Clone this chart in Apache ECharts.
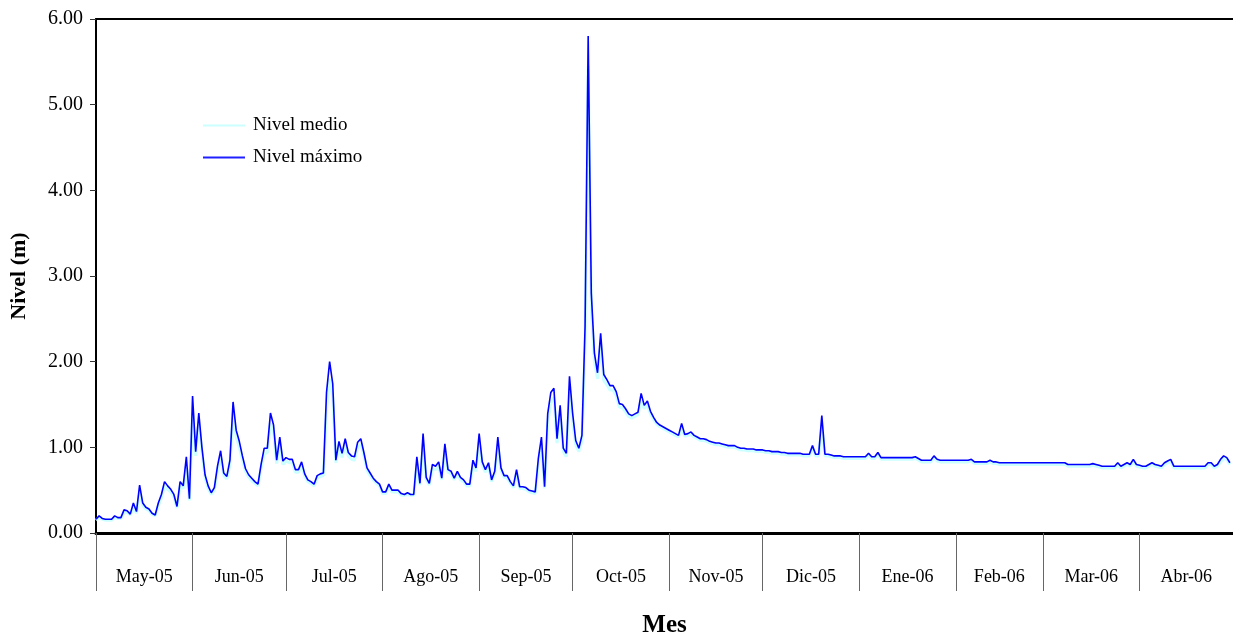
<!DOCTYPE html>
<html>
<head>
<meta charset="utf-8">
<script src="https://cdn.jsdelivr.net/npm/echarts@6/dist/echarts.min.js"></script>
<style>html,body{margin:0;padding:0;background:#fff;overflow:hidden;width:1233px;height:643px}#c{width:1233px;height:643px;overflow:hidden}</style>
</head>
<body>
<div id="c"></div>
<script>
// Month labels and day-boundaries (day index from 1 May 2005)
var monthLabels = ['May-05','Jun-05','Jul-05','Ago-05','Sep-05','Oct-05','Nov-05','Dic-05','Ene-06','Feb-06','Mar-06','Abr-06'];
var monthStarts = [0,31,61,92,123,153,184,214,245,276,304,335,365];
var yTicks = [0,1,2,3,4,5,6];

// Nivel máximo (m), daily, per month
var maxMay = [0.16,0.20,0.17,0.16,0.16,0.16,0.20,0.18,0.18,0.27,0.26,0.22,0.35,0.25,0.56,0.35,0.30,0.28,0.23,0.21,0.35,0.45,0.60,0.55,0.51,0.45,0.31,0.60,0.55,0.89,0.40];
var maxJun = [1.60,0.95,1.40,1.00,0.68,0.55,0.47,0.53,0.78,0.96,0.70,0.66,0.85,1.53,1.20,1.07,0.90,0.75,0.68,0.64,0.60,0.57,0.80,0.99,0.99,1.40,1.26,0.85,1.12,0.84];
var maxJul = [0.88,0.86,0.86,0.74,0.74,0.83,0.69,0.62,0.60,0.57,0.67,0.69,0.70,1.64,2.00,1.74,0.85,1.07,0.93,1.10,0.94,0.90,0.89,1.06,1.10,0.94,0.76,0.70,0.64,0.60,0.57];
var maxAgo = [0.48,0.48,0.57,0.50,0.50,0.50,0.46,0.45,0.47,0.45,0.45,0.89,0.58,1.16,0.65,0.58,0.80,0.78,0.83,0.64,1.04,0.74,0.72,0.64,0.72,0.65,0.62,0.57,0.57,0.85,0.76];
var maxSep = [1.16,0.83,0.74,0.82,0.62,0.72,1.12,0.76,0.67,0.67,0.60,0.55,0.74,0.54,0.54,0.53,0.50,0.49,0.48,0.87,1.12,0.54,1.39,1.64,1.69,1.10,1.49,0.99,0.93,1.83];
var maxOct = [1.40,1.08,0.99,1.14,2.41,5.80,2.80,2.10,1.87,2.33,1.85,1.79,1.72,1.72,1.65,1.51,1.50,1.45,1.39,1.37,1.39,1.41,1.63,1.49,1.54,1.42,1.35,1.29,1.26,1.24,1.22];
var maxNov = [1.20,1.18,1.16,1.14,1.28,1.15,1.16,1.18,1.14,1.12,1.10,1.10,1.09,1.07,1.06,1.05,1.05,1.04,1.03,1.02,1.02,1.02,1.00,0.99,0.99,0.98,0.98,0.98,0.97,0.97];
var maxDic = [0.97,0.96,0.96,0.95,0.95,0.95,0.94,0.94,0.93,0.93,0.93,0.93,0.93,0.92,0.92,0.92,1.02,0.92,0.92,1.37,0.92,0.92,0.91,0.90,0.90,0.90,0.89,0.89,0.89,0.89,0.89];
var maxEne = [0.89,0.89,0.89,0.93,0.89,0.89,0.94,0.88,0.88,0.88,0.88,0.88,0.88,0.88,0.88,0.88,0.88,0.88,0.89,0.87,0.85,0.85,0.85,0.85,0.90,0.86,0.85,0.85,0.85,0.85,0.85];
var maxFeb = [0.85,0.85,0.85,0.85,0.85,0.86,0.83,0.83,0.83,0.83,0.83,0.85,0.83,0.83,0.82,0.82,0.82,0.82,0.82,0.82,0.82,0.82,0.82,0.82,0.82,0.82,0.82,0.82];
var maxMar = [0.82,0.82,0.82,0.82,0.82,0.82,0.82,0.82,0.80,0.80,0.80,0.80,0.80,0.80,0.80,0.80,0.81,0.80,0.79,0.78,0.78,0.78,0.78,0.78,0.82,0.78,0.80,0.82,0.80,0.86,0.80];
var maxAbr = [0.79,0.78,0.78,0.80,0.82,0.80,0.79,0.78,0.82,0.84,0.86,0.78,0.78,0.78,0.78,0.78,0.78,0.78,0.78,0.78,0.78,0.78,0.82,0.82,0.78,0.80,0.86,0.90,0.88,0.82];

// Nivel medio (m), daily, per month
var medMay = [0.15,0.18,0.16,0.15,0.15,0.15,0.18,0.17,0.17,0.24,0.24,0.21,0.30,0.23,0.48,0.32,0.28,0.26,0.22,0.20,0.32,0.41,0.55,0.51,0.48,0.42,0.29,0.55,0.52,0.78,0.38];
var medJun = [1.40,0.90,1.28,0.95,0.64,0.52,0.45,0.50,0.72,0.88,0.67,0.63,0.80,1.40,1.12,1.00,0.85,0.72,0.65,0.61,0.58,0.55,0.76,0.92,0.94,1.28,1.18,0.81,1.04,0.80];
var medJul = [0.84,0.82,0.82,0.71,0.71,0.79,0.66,0.60,0.58,0.55,0.64,0.66,0.67,1.45,1.80,1.58,0.82,1.00,0.88,1.03,0.90,0.86,0.85,1.00,1.04,0.90,0.73,0.67,0.62,0.58,0.55];
var medAgo = [0.46,0.46,0.54,0.48,0.48,0.48,0.44,0.44,0.45,0.44,0.44,0.80,0.56,1.04,0.62,0.56,0.75,0.74,0.78,0.62,0.96,0.71,0.69,0.62,0.69,0.62,0.60,0.55,0.55,0.79,0.72];
var medSep = [1.06,0.79,0.71,0.78,0.60,0.69,1.02,0.73,0.65,0.64,0.58,0.53,0.70,0.52,0.52,0.51,0.48,0.47,0.46,0.80,1.02,0.52,1.28,1.52,1.58,1.05,1.38,0.95,0.89,1.68];
var medOct = [1.28,1.03,0.95,1.08,2.20,5.45,2.60,2.00,1.80,2.20,1.78,1.73,1.67,1.67,1.60,1.47,1.46,1.41,1.36,1.34,1.36,1.38,1.55,1.45,1.49,1.39,1.32,1.27,1.24,1.22,1.20];
var medNov = [1.18,1.16,1.14,1.12,1.22,1.13,1.14,1.15,1.12,1.10,1.08,1.08,1.07,1.05,1.04,1.03,1.03,1.02,1.01,1.00,1.00,1.00,0.98,0.97,0.97,0.96,0.96,0.96,0.95,0.95];
var medDic = [0.95,0.94,0.94,0.93,0.93,0.93,0.92,0.92,0.91,0.91,0.91,0.91,0.91,0.90,0.90,0.90,0.98,0.90,0.90,1.25,0.90,0.90,0.89,0.88,0.88,0.88,0.87,0.87,0.87,0.87,0.87];
var medEne = [0.87,0.87,0.87,0.91,0.87,0.87,0.92,0.86,0.86,0.86,0.86,0.86,0.86,0.86,0.86,0.86,0.86,0.86,0.87,0.85,0.83,0.83,0.83,0.83,0.88,0.84,0.83,0.83,0.83,0.83,0.83];
var medFeb = [0.83,0.83,0.83,0.83,0.83,0.84,0.81,0.81,0.81,0.81,0.81,0.83,0.81,0.81,0.80,0.80,0.80,0.80,0.80,0.80,0.80,0.80,0.80,0.80,0.80,0.80,0.80,0.80];
var medMar = [0.80,0.80,0.80,0.80,0.80,0.80,0.80,0.80,0.78,0.78,0.78,0.78,0.78,0.78,0.78,0.78,0.79,0.78,0.77,0.76,0.76,0.76,0.76,0.76,0.80,0.76,0.78,0.80,0.78,0.83,0.78];
var medAbr = [0.77,0.76,0.76,0.78,0.80,0.78,0.77,0.76,0.80,0.82,0.83,0.76,0.76,0.76,0.76,0.76,0.76,0.76,0.76,0.76,0.76,0.76,0.80,0.80,0.76,0.78,0.83,0.87,0.86,0.80];

var maxAll = [].concat(maxMay,maxJun,maxJul,maxAgo,maxSep,maxOct,maxNov,maxDic,maxEne,maxFeb,maxMar,maxAbr);
var medAll = [].concat(medMay,medJun,medJul,medAgo,medSep,medOct,medNov,medDic,medEne,medFeb,medMar,medAbr);
var maxData = maxAll.map(function(v,i){return [i,v];});
var medData = medAll.map(function(v,i){return [i,v];});
var labelPos = monthLabels.map(function(m,i){return (monthStarts[i]+monthStarts[i+1])/2;});

var FONT = '"Liberation Serif","Times New Roman",serif';
var chart = echarts.init(document.getElementById('c'), null, {renderer:'canvas', width:1233, height:643});
chart.setOption({
  animation:false,
  backgroundColor:'#fff',
  grid:{left:96, right:-4, top:19, bottom:104, containLabel:false},
  legend:{
    orient:'vertical', left:203, top:116, itemGap:13, itemWidth:42, itemHeight:14, padding:0,
    icon:'path://M0,6L42,6L42,8L0,8Z',
    textStyle:{fontFamily:FONT, fontSize:19, color:'#000', padding:[0,0,0,3]},
    data:[{name:'Nivel medio', itemStyle:{color:'#ccffff'}},{name:'Nivel máximo', itemStyle:{color:'#2020ff'}}]
  },
  xAxis:[{
    type:'value', min:0, max:365, position:'bottom',
    name:'Mes', nameLocation:'middle', nameGap:80,
    nameTextStyle:{fontFamily:FONT, fontSize:25, fontWeight:'bold', color:'#000'},
    axisLine:{onZero:false, lineStyle:{color:'#000', width:3}},
    axisTick:{show:true, customValues:monthStarts, length:58, lineStyle:{color:'#666', width:1}},
    axisLabel:{customValues:labelPos, margin:35, fontFamily:FONT, fontSize:18, color:'#000',
      formatter:function(v){var k=labelPos.indexOf(v);return k>=0?monthLabels[k]:'';}},
    splitLine:{show:false}
  },{
    type:'value', min:0, max:365, position:'top',
    axisLine:{show:true, onZero:false, lineStyle:{color:'#000', width:2}},
    axisTick:{show:false}, axisLabel:{show:false}, splitLine:{show:false}
  }],
  yAxis:{
    type:'value', min:yTicks[0], max:yTicks[yTicks.length-1], interval:1,
    name:'Nivel (m)', nameLocation:'middle', nameGap:66, nameRotate:90,
    nameTextStyle:{fontFamily:FONT, fontSize:22, fontWeight:'bold', color:'#000'},
    axisLine:{show:true, onZero:false, lineStyle:{color:'#000', width:2}},
    axisTick:{show:true, length:6, lineStyle:{color:'#333', width:1}},
    axisLabel:{margin:13, fontFamily:FONT, fontSize:20, color:'#000', formatter:function(v){return v.toFixed(2);}},
    splitLine:{show:false}
  },
  series:[
    {name:'Nivel medio', type:'line', data:medData, symbol:'none', z:2,
     lineStyle:{color:'#ccffff', width:3}, itemStyle:{color:'#ccffff'}},
    {name:'Nivel máximo', type:'line', data:maxData, symbol:'none', z:3,
     lineStyle:{color:'#0000ff', width:1.6}, itemStyle:{color:'#0000ff'}}
  ]
});
</script>
</body>
</html>
